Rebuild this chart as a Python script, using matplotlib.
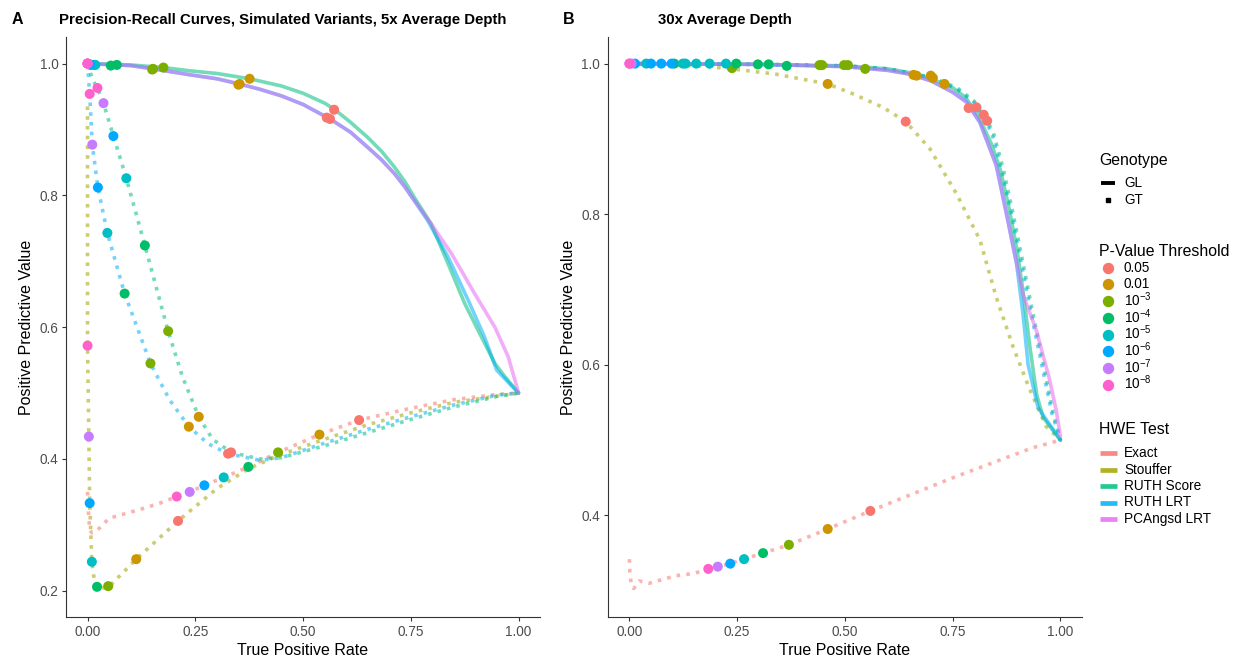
import matplotlib.pyplot as plt

plt.rcParams["font.family"] = ["Liberation Sans", "DejaVu Sans"]
plt.rcParams["mathtext.fontset"] = "custom"
plt.rcParams["mathtext.rm"] = "Liberation Sans"
plt.rcParams["mathtext.it"] = "Liberation Sans:italic"

HWE_TESTS = ["Exact", "Stouffer", "RUTH Score", "RUTH LRT", "PCAngsd LRT"]
HWE_COLORS = ["#F8766D", "#A3A500", "#00BF7D", "#00B0F6", "#E76BF3"]

P_LABELS = ["0.05", "0.01", r"$10^{-3}$", r"$10^{-4}$", r"$10^{-5}$",
            r"$10^{-6}$", r"$10^{-7}$", r"$10^{-8}$"]
P_COLORS = ["#F8766D", "#CD9600", "#7CAE00", "#00BE67", "#00BFC4",
            "#00A9FF", "#C77CFF", "#FF61CC"]

# ---- panel A (5x depth) ----
A_GL_SCORE_X = [0, 0.1, 0.176, 0.238, 0.3, 0.376, 0.45, 0.5, 0.55, 0.572, 0.61, 0.65, 0.682,
                0.712, 0.736, 0.758, 0.797, 0.836, 0.875, 0.914, 0.945, 0.968, 1.0]
A_GL_SCORE_Y = [1.0, 0.998, 0.994, 0.989, 0.985, 0.977, 0.966, 0.955, 0.94, 0.931, 0.911,
                0.888, 0.867, 0.843, 0.821, 0.797, 0.757, 0.697, 0.636, 0.585, 0.545, 0.525, 0.5]
A_GL_LRT_X = [0, 0.1, 0.152, 0.238, 0.3, 0.353, 0.4, 0.45, 0.5, 0.5625, 0.61, 0.65, 0.682,
              0.712, 0.736, 0.758, 0.789, 0.836, 0.883, 0.921, 0.949, 1.0]
A_GL_LRT_Y = [1.0, 0.997, 0.992, 0.983, 0.977, 0.969, 0.961, 0.951, 0.938, 0.916, 0.896,
              0.873, 0.854, 0.833, 0.813, 0.792, 0.762, 0.707, 0.641, 0.585, 0.535, 0.5]
A_GL_PCA_X = [0, 0.1, 0.152, 0.238, 0.3, 0.353, 0.4, 0.45, 0.5, 0.5625, 0.61, 0.65, 0.682,
              0.712, 0.736, 0.758, 0.797, 0.844, 0.898, 0.945, 0.976, 1.0]
A_GL_PCA_Y = [1.0, 0.997, 0.992, 0.983, 0.977, 0.969, 0.961, 0.951, 0.938, 0.916, 0.896,
              0.873, 0.854, 0.833, 0.813, 0.792, 0.757, 0.712, 0.651, 0.60, 0.555, 0.5]

A_GT_EXACT_X = [0, 0.002, 0.005, 0.01, 0.02, 0.05, 0.13, 0.168, 0.207, 0.237, 0.271, 0.316,
                0.373, 0.442, 0.538, 0.63, 0.75, 0.85, 0.95, 1.0]
A_GT_EXACT_Y = [0.35, 0.32, 0.292, 0.288, 0.29, 0.31, 0.325, 0.333, 0.343, 0.35, 0.36, 0.372,
                0.388, 0.41, 0.437, 0.459, 0.477, 0.49, 0.498, 0.5]
A_GT_STOUF_X = [0, 0.0, 0.0, 0.003, 0.005, 0.01, 0.016, 0.022, 0.048, 0.113, 0.21, 0.3,
                0.373, 0.442, 0.55, 0.65, 0.75, 0.85, 1.0]
A_GT_STOUF_Y = [0.935, 0.75, 0.572, 0.434, 0.333, 0.244, 0.215, 0.204, 0.205, 0.248, 0.306,
                0.355, 0.385, 0.405, 0.43, 0.452, 0.47, 0.486, 0.5]
A_GT_SCORE_X = [0, 0.005, 0.012, 0.023, 0.037, 0.06, 0.09, 0.133, 0.187, 0.22, 0.258, 0.29,
                0.333, 0.4, 0.45, 0.55, 0.65, 0.75, 0.85, 0.95, 1.0]
A_GT_SCORE_Y = [1.0, 0.99, 0.975, 0.963, 0.94, 0.89, 0.826, 0.724, 0.594, 0.525, 0.464, 0.43,
                0.41, 0.40, 0.402, 0.42, 0.44, 0.46, 0.479, 0.495, 0.5]
A_GT_LRT_X = [0, 0.002, 0.005, 0.011, 0.024, 0.046, 0.086, 0.146, 0.19, 0.235, 0.28, 0.326,
              0.4, 0.45, 0.55, 0.65, 0.75, 0.85, 0.95, 1.0]
A_GT_LRT_Y = [1.0, 0.98, 0.954, 0.877, 0.812, 0.743, 0.651, 0.545, 0.49, 0.449, 0.423, 0.408,
              0.398, 0.402, 0.424, 0.445, 0.464, 0.482, 0.497, 0.5]

# points per p-value threshold (same order as P_LABELS)
A_PTS_X = [
    [0.21, 0.63, 0.333, 0.326, 0.572, 0.5625, 0.555],
    [0.113, 0.538, 0.258, 0.235, 0.376, 0.353, 0.35],
    [0.048, 0.442, 0.187, 0.146, 0.176, 0.152, 0.15],
    [0.022, 0.373, 0.133, 0.086, 0.068, 0.054],
    [0.01, 0.316, 0.09, 0.046, 0.018, 0.015],
    [0.005, 0.271, 0.06, 0.024, 0.007, 0.005],
    [0.003, 0.237, 0.037, 0.011, 0.0, 0.0],
    [0.0, 0.207, 0.023, 0.005, 0.0, 0.0],
]
A_PTS_Y = [
    [0.306, 0.459, 0.41, 0.408, 0.93, 0.916, 0.918],
    [0.248, 0.437, 0.464, 0.449, 0.977, 0.969, 0.968],
    [0.207, 0.41, 0.594, 0.545, 0.994, 0.992, 0.991],
    [0.206, 0.388, 0.724, 0.651, 0.998, 0.997],
    [0.244, 0.372, 0.826, 0.743, 0.998, 0.998],
    [0.333, 0.36, 0.89, 0.812, 0.998, 0.999],
    [0.434, 0.35, 0.94, 0.877, 1.0, 1.0],
    [0.572, 0.343, 0.963, 0.954, 1.0, 1.0],
]

# ---- panel B (30x depth) ----
B_GL_SCORE_X = [0, 0.3, 0.5, 0.6, 0.65, 0.7, 0.75, 0.78, 0.81, 0.84, 0.86, 0.88, 0.9, 0.915,
                0.93, 0.945, 0.96, 1.0]
B_GL_SCORE_Y = [1.0, 0.999, 0.997, 0.993, 0.988, 0.98, 0.968, 0.955, 0.93, 0.893, 0.86, 0.81,
                0.75, 0.69, 0.62, 0.56, 0.53, 0.5]
B_GL_LRT_X = [0, 0.3, 0.5, 0.6, 0.65, 0.7, 0.75, 0.782, 0.813, 0.851, 0.875, 0.898, 0.913,
              0.925, 0.948, 1.0]
B_GL_LRT_Y = [1.0, 0.999, 0.996, 0.991, 0.986, 0.977, 0.962, 0.949, 0.922, 0.865, 0.80, 0.735,
              0.668, 0.60, 0.543, 0.5]
B_GL_PCA_X = [0, 0.3, 0.5, 0.6, 0.65, 0.7, 0.75, 0.782, 0.813, 0.851, 0.875, 0.898, 0.915,
              0.944, 0.975, 0.99, 1.0]
B_GL_PCA_Y = [1.0, 0.999, 0.996, 0.991, 0.986, 0.977, 0.962, 0.949, 0.922, 0.865, 0.80, 0.735,
              0.69, 0.646, 0.58, 0.54, 0.505]

B_GT_EXACT_X = [0, 0.001, 0.004, 0.01, 0.023, 0.046, 0.108, 0.15, 0.183, 0.205, 0.234, 0.266,
                0.31, 0.37, 0.46, 0.559, 0.75, 0.936, 1.0]
B_GT_EXACT_Y = [0.342, 0.325, 0.31, 0.303, 0.313, 0.31, 0.32, 0.323, 0.329, 0.332, 0.336,
                0.342, 0.35, 0.361, 0.382, 0.406, 0.45, 0.49, 0.5]
B_GT_STOUF_X = [0, 0.163, 0.238, 0.34, 0.395, 0.46, 0.518, 0.588, 0.641, 0.697, 0.759, 0.813,
                0.851, 0.89, 0.929, 0.967, 1.0]
B_GT_STOUF_Y = [1.0, 0.997, 0.993, 0.986, 0.98, 0.973, 0.96, 0.942, 0.923, 0.887, 0.827, 0.766,
                0.69, 0.624, 0.567, 0.518, 0.5]
B_GT_SCORE_X = [0, 0.3, 0.5, 0.6, 0.7, 0.76, 0.8, 0.843, 0.866, 0.89, 0.913, 0.936, 0.96,
                0.983, 1.0]
B_GT_SCORE_Y = [1.0, 0.999, 0.997, 0.993, 0.982, 0.968, 0.95, 0.911, 0.863, 0.801, 0.735,
                0.668, 0.602, 0.536, 0.5]
B_GT_LRT_X = [0, 0.3, 0.5, 0.6, 0.7, 0.76, 0.8, 0.84, 0.862, 0.886, 0.909, 0.932, 0.956,
              0.98, 1.0]
B_GT_LRT_Y = [1.0, 0.999, 0.997, 0.993, 0.981, 0.966, 0.948, 0.909, 0.861, 0.8, 0.735, 0.668,
              0.602, 0.536, 0.5]

B_PTS_X = [
    [0.559, 0.641, 0.787, 0.805, 0.822, 0.83],
    [0.46, 0.46, 0.659, 0.666, 0.699, 0.704, 0.731],
    [0.37, 0.238, 0.441, 0.447, 0.498, 0.507, 0.547],
    [0.31, 0.104, 0.248, 0.298, 0.323, 0.365],
    [0.266, 0.039, 0.124, 0.13, 0.155, 0.186, 0.224],
    [0.234, 0.013, 0.05, 0.074, 0.098],
    [0.205, 0.0, 0.005],
    [0.183, 0.0],
]
B_PTS_Y = [
    [0.406, 0.923, 0.941, 0.942, 0.932, 0.924],
    [0.382, 0.973, 0.985, 0.984, 0.984, 0.981, 0.973],
    [0.361, 0.994, 0.998, 0.998, 0.998, 0.998, 0.993],
    [0.35, 1.0, 1.0, 0.999, 0.999, 0.997],
    [0.342, 1.0, 1.0, 1.0, 1.0, 1.0, 1.0],
    [0.336, 1.0, 1.0, 1.0, 1.0],
    [0.332, 1.0, 1.0],
    [0.329, 1.0],
]

LINE_ALPHA = 0.55
DOTTED = (0, (1, 1.7))
W, H = 1238, 665


def style_axes(ax, yticks):
    for side in ["top", "right"]:
        ax.spines[side].set_visible(False)
    for side in ["left", "bottom"]:
        ax.spines[side].set_linewidth(0.8)
        ax.spines[side].set_color("#333333")
    ax.set_xlim(-0.05, 1.05)
    ax.set_xticks([0, 0.25, 0.5, 0.75, 1.0])
    ax.set_xticklabels(["0.00", "0.25", "0.50", "0.75", "1.00"])
    ax.set_yticks(yticks)
    ax.set_yticklabels([f"{t:.1f}" for t in yticks])
    ax.tick_params(length=3, width=0.8, color="#333333", labelsize=9.8,
                   labelcolor="#4D4D4D", pad=2.5)
    ax.set_xlabel("True Positive Rate", fontsize=11.5, labelpad=3)
    ax.set_ylabel("Positive Predictive Value", fontsize=11.5, labelpad=4)


def draw_panel(ax, gt_lines, gl_lines, pts_x, pts_y):
    for xs, ys, color in gt_lines:
        ax.plot(xs, ys, color=color, lw=2.6, alpha=LINE_ALPHA, linestyle=DOTTED,
                dash_capstyle="butt")
    for xs, ys, color in gl_lines:
        ax.plot(xs, ys, color=color, lw=2.6, alpha=LINE_ALPHA, solid_capstyle="round",
                solid_joinstyle="round")
    for i in range(len(P_COLORS)):
        ax.scatter(pts_x[i], pts_y[i], s=52, color=P_COLORS[i], edgecolors="none",
                   zorder=3)


fig = plt.figure(figsize=(12.38, 6.65), dpi=100)
ax_a = fig.add_axes([0.0533, 0.072, 0.383, 0.872])
ax_b = fig.add_axes([0.491, 0.072, 0.383, 0.872])

draw_panel(
    ax_a,
    [(A_GT_EXACT_X, A_GT_EXACT_Y, HWE_COLORS[0]),
     (A_GT_STOUF_X, A_GT_STOUF_Y, HWE_COLORS[1]),
     (A_GT_SCORE_X, A_GT_SCORE_Y, HWE_COLORS[2]),
     (A_GT_LRT_X, A_GT_LRT_Y, HWE_COLORS[3])],
    [(A_GL_SCORE_X, A_GL_SCORE_Y, HWE_COLORS[2]),
     (A_GL_LRT_X, A_GL_LRT_Y, HWE_COLORS[3]),
     (A_GL_PCA_X, A_GL_PCA_Y, HWE_COLORS[4])],
    A_PTS_X, A_PTS_Y,
)
ax_a.set_ylim(0.16, 1.04)
style_axes(ax_a, [0.2, 0.4, 0.6, 0.8, 1.0])

draw_panel(
    ax_b,
    [(B_GT_EXACT_X, B_GT_EXACT_Y, HWE_COLORS[0]),
     (B_GT_STOUF_X, B_GT_STOUF_Y, HWE_COLORS[1]),
     (B_GT_SCORE_X, B_GT_SCORE_Y, HWE_COLORS[2]),
     (B_GT_LRT_X, B_GT_LRT_Y, HWE_COLORS[3])],
    [(B_GL_SCORE_X, B_GL_SCORE_Y, HWE_COLORS[2]),
     (B_GL_LRT_X, B_GL_LRT_Y, HWE_COLORS[3]),
     (B_GL_PCA_X, B_GL_PCA_Y, HWE_COLORS[4])],
    B_PTS_X, B_PTS_Y,
)
ax_b.set_ylim(0.265, 1.035)
style_axes(ax_b, [0.4, 0.6, 0.8, 1.0])

fig.text(12 / W, 1 - 19 / H, "A", fontsize=11.5, fontweight="bold", va="center")
fig.text(563 / W, 1 - 19 / H, "B", fontsize=11.5, fontweight="bold", va="center")
fig.text(59 / W, 1 - 20 / H, "Precision-Recall Curves, Simulated Variants, 5x Average Depth",
         fontsize=10.8, fontweight="bold", va="center")
fig.text(658 / W, 1 - 20 / H, "30x Average Depth", fontsize=10.8, fontweight="bold",
         va="center")

# legends, laid out in pixel units on an overlay axes
leg = fig.add_axes([0, 0, 1, 1])
leg.set_xlim(0, W)
leg.set_ylim(H, 0)
leg.axis("off")

TITLE_X, KEY_X, TEXT_X = 1099, 1108, 1124
TITLE_FS, TEXT_FS = 11.4, 9.8

leg.text(TITLE_X, 160, "Genotype", fontsize=TITLE_FS, va="center")
leg.plot([1101, 1115], [183, 183], color="black", lw=2.8, solid_capstyle="butt")
leg.plot([KEY_X], [199.5], color="black", marker="s", markersize=3.2, linestyle="none")
leg.text(TEXT_X, 183, "GL", fontsize=TEXT_FS, va="center")
leg.text(TEXT_X, 199.5, "GT", fontsize=TEXT_FS, va="center")

leg.text(TITLE_X, 252, "P-Value Threshold", fontsize=TITLE_FS, va="center")
for i, (lab, col) in enumerate(zip(P_LABELS, P_COLORS)):
    yy = 267.7 + 16.7 * i
    leg.plot([KEY_X], [yy], marker="o", markersize=7.2, color=col, linestyle="none")
    leg.text(TEXT_X, yy + (0 if i < 2 else -1.5), lab, fontsize=TEXT_FS, va="center")

leg.text(TITLE_X, 430, "HWE Test", fontsize=TITLE_FS, va="center")
for i, (lab, col) in enumerate(zip(HWE_TESTS, HWE_COLORS)):
    yy = 453.3 + 16.4 * i
    leg.plot([1100, 1117], [yy, yy], color=col, lw=3.4, alpha=0.85, solid_capstyle="butt")
    leg.text(TEXT_X, yy, lab, fontsize=TEXT_FS, va="center")

fig.savefig("out.png", dpi=100)
